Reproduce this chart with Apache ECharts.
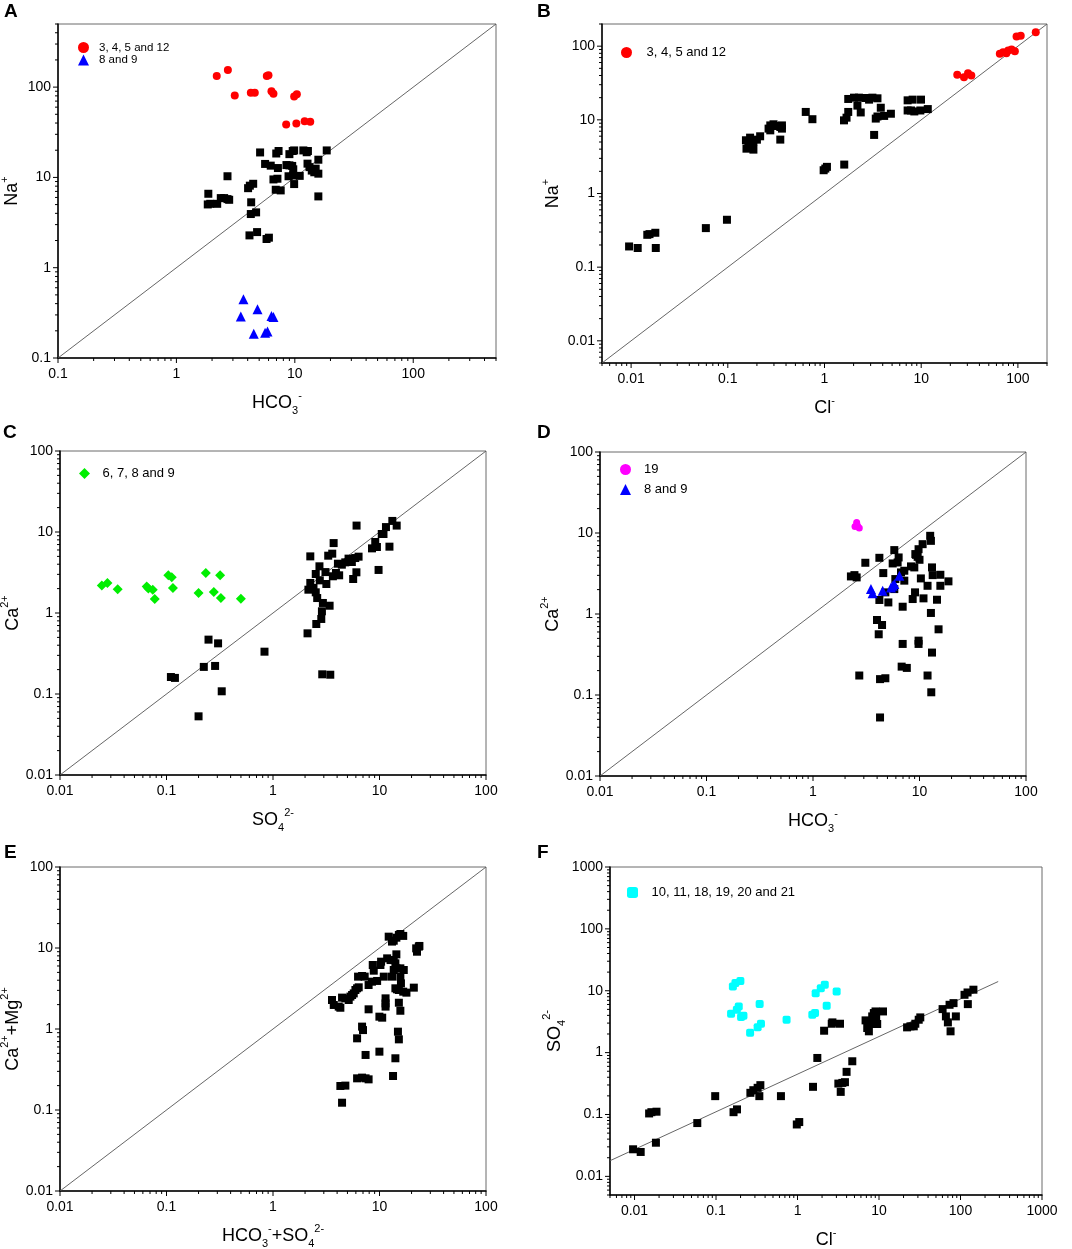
<!DOCTYPE html>
<html>
<head>
<meta charset="utf-8">
<title>Ion ratio plots</title>
<script src="https://cdn.jsdelivr.net/npm/echarts@6/dist/echarts.min.js"></script>
<style>
html, body { margin: 0; padding: 0; background: #fff; }
#chart { width: 1072px; height: 1249px; }
</style>
</head>
<body>
<div id="chart"></div>
<script>
// axis ranges (log axes)
var rangeA = [0.1, 500];
var rangeB = [0.005, 200];
var rangeC = [0.01, 100];
var rangeFx = [0.005, 1000];
var rangeFy = [0.005, 1000];

// legend groups
var grp3_12 = '3, 4, 5 and 12';
var grp8_9 = '8 and 9';
var grp6_9 = '6, 7, 8 and 9';
var grp19 = '19';
var grp10_21 = '10, 11, 18, 19, 20 and 21';

// A: Na+ vs HCO3-
var aBlack = [[1.86,6.59],[1.84,5.02],[1.93,5.1],[2.21,5.1],[2.37,5.9],[2.53,5.9],[2.7,5.75],[2.79,5.65],[2.7,10.3],[4.03,7.6],[4.17,8.1],[4.45,8.5],[4.28,5.3],[4.25,3.93],[4.71,4.1],[4.14,2.28],[4.8,2.48],[5.77,2.08],[6.04,2.15],[5.09,18.9],[5.61,14.1],[6.26,13.5],[6.97,18.4],[7.29,19.6],[6.6,9.5],[7.13,9.67],[6.9,7.3],[7.6,7.18],[7.2,12.7],[8.5,13.7],[9.0,13.6],[9.5,13.4],[9.0,18.1],[9.6,19.6],[9.87,19.9],[8.85,10.3],[9.65,10.5],[9.7,12.3],[9.87,8.44],[11,10.4],[11.8,19.9],[12.6,19],[12.9,19.6],[12.8,14.2],[13.3,13],[13.9,11.9],[14.6,11.4],[15.8,11],[15,12.5],[15.8,15.7],[15.8,6.16],[18.6,19.9]];
var aRed = [[2.19,133],[2.72,155],[3.11,81],[4.25,86.5],[4.59,86.5],[5.8,133],[5.99,135],[6.35,90],[6.6,84.4],[9.87,78.8],[10.4,83.6],[8.45,38.6],[10.3,39.6],[12.1,42],[13.5,41.3]];
var aBlue = [[3.68,0.446],[3.5,0.289],[4.84,0.346],[4.5,0.186],[5.61,0.19],[5.88,0.196],[6.35,0.292],[6.6,0.284]];

// B: Na+ vs Cl-
var bBlack = [[0.00953,0.191],[0.0117,0.182],[0.0147,0.275],[0.0155,0.281],[0.0178,0.293],[0.018,0.182],[0.0593,0.339],[0.098,0.44],[0.154,5.28],[0.163,4.75],[0.17,5.73],[0.177,4.29],[0.184,3.94],[0.2,5.38],[0.216,5.98],[0.156,4.06],[0.184,5.0],[0.264,7.6],[0.275,8.4],[0.297,8.7],[0.322,8.25],[0.349,8.0],[0.363,8.4],[0.275,7.2],[0.349,5.39],[0.363,7.6],[0.64,12.8],[0.75,10.2],[0.98,2.07],[1.06,2.3],[1.02,2.18],[1.6,2.47],[1.59,9.84],[1.69,10.7],[1.76,12.8],[1.76,19.2],[2.02,20],[2.27,20],[2.19,15.6],[2.37,12.6],[2.67,19.8],[2.89,18.8],[3.13,20],[3.53,19.6],[3.26,6.24],[3.39,10.4],[3.53,11.1],[3.82,14.6],[4.14,11.3],[4.86,12.1],[7.24,13.4],[7.84,13.4],[7.24,18.4],[8.16,18.8],[9.96,18.8],[8.49,13.0],[9.8,13.4],[11.7,14.0]];
var bRed = [[23.6,40.9],[27.7,38],[30.5,43],[33,40],[65,78.7],[70.4,83],[79.4,87.4],[86,90],[93,85.6],[76,80],[96.9,135],[107,139],[153,155]];

// C: Ca2+ vs SO4 2-
var cBlack = [[0.11,0.162],[0.12,0.158],[0.2,0.053],[0.224,0.216],[0.248,0.469],[0.286,0.222],[0.305,0.422],[0.33,0.108],[0.832,0.333],[2.11,0.561],[2.9,0.175],[3.45,0.173],[2.55,0.731],[2.84,0.844],[2.88,1.05],[2.94,1.33],[3.4,1.23],[2.6,1.53],[2.52,1.8],[2.4,2.04],[2.15,1.94],[2.24,2.35],[2.24,5.0],[2.52,3.03],[2.73,3.77],[2.75,2.53],[3.11,3.2],[3.17,2.28],[3.3,5.1],[3.6,5.4],[3.71,7.3],[3.65,2.84],[3.9,3.12],[4.18,2.92],[4.07,4.06],[4.43,3.95],[4.77,4.22],[5.12,4.69],[5.5,4.26],[5.92,4.77],[6.36,4.96],[5.66,2.63],[6.07,3.18],[6.09,12.0],[8.5,6.28],[9.12,7.53],[9.46,6.53],[9.8,3.4],[10.5,9.44],[10.9,9.44],[11.5,11.5],[12.4,6.59],[13.2,13.7],[14.5,12.0]];
var cGreen = [[0.0247,2.18],[0.0279,2.35],[0.0348,1.96],[0.0652,2.13],[0.0676,2.0],[0.0743,1.94],[0.0776,1.49],[0.104,2.92],[0.112,2.76],[0.115,2.04],[0.2,1.77],[0.234,3.12],[0.278,1.82],[0.319,2.92],[0.324,1.53],[0.499,1.5]];

// D: Ca2+ vs HCO3-
var dBlack = [[2.27,2.91],[2.45,3.02],[2.57,2.83],[2.72,0.174],[3.1,4.29],[4.2,4.94],[4.57,3.2],[4.78,1.85],[4.2,1.49],[5.1,1.39],[3.99,0.843],[4.45,0.732],[4.14,0.562],[4.26,0.157],[4.78,0.161],[4.26,0.0528],[5.8,6.15],[5.6,4.21],[6.23,4.33],[6.37,4.99],[5.8,2.03],[5.93,2.7],[6.7,3.26],[7.2,3.42],[7.2,2.58],[6.95,1.23],[6.95,0.427],[6.8,0.224],[7.6,0.216],[8.32,3.87],[8.94,3.76],[8.63,1.53],[9.08,1.85],[9.27,5.38],[9.14,5.49],[9.61,5.08],[10,4.67],[9.8,6.31],[10.7,7.28],[9.8,0.469],[9.8,0.427],[10.3,2.75],[10.9,1.56],[11.9,2.23],[12.6,9.23],[12.8,8.0],[12.8,1.03],[13.1,3.76],[13.3,3.02],[11.9,0.174],[13.1,0.334],[12.9,0.108],[14.6,1.5],[15.1,0.647],[15.7,3.05],[15.7,2.23],[18.7,2.53]];
var dMagenta = [[2.57,13.5],[2.48,12.0],[2.72,11.5],[2.62,12.3]];
var dBlue = [[3.5,2.03],[3.63,1.8],[4.51,1.94],[5.4,2.13],[5.8,2.34],[6.47,2.97],[5.6,2.23]];

// E: Ca2+ + Mg2+ vs HCO3- + SO4 2-
var eBlack = [[3.58,2.28],[3.72,1.98],[4.14,1.89],[4.29,1.83],[4.45,2.44],[4.78,2.39],[5.14,2.28],[5.53,2.63],[5.73,2.75],[5.94,3.03],[6.16,3.18],[6.38,3.27],[5.33,2.51],[6.29,4.43],[6.86,4.51],[7.26,4.43],[6.16,0.767],[6.86,1.07],[7.0,0.97],[7.4,0.478],[6.16,0.246],[6.86,0.251],[7.4,0.246],[7.9,0.239],[4.29,0.198],[4.78,0.2],[4.45,0.123],[7.9,1.75],[7.9,3.49],[8.5,3.84],[8.64,6.17],[8.83,5.25],[9.5,3.92],[10.2,6.17],[10.35,6.78],[10.97,4.43],[9.98,1.42],[10.6,1.38],[9.98,0.525],[11.4,2.39],[11.4,2.07],[11.4,1.89],[11.8,7.45],[12.7,7.1],[12.2,13.8],[13.1,12.0],[13.6,12.3],[13.1,4.43],[13.6,7.1],[14.1,6.47],[14.4,8.35],[13.6,5.35],[14.4,5.61],[14.1,3.18],[14.6,3.09],[14.1,0.435],[13.4,0.263],[14.9,0.927],[15.2,2.11],[15.2,0.745],[14.4,13.4],[15.2,14.5],[15.7,14.9],[16.7,14.1],[15.2,3.03],[15.7,5.61],[16.9,5.35],[15.7,4.43],[15.9,3.66],[15.7,1.68],[16.7,2.89],[17.9,2.81],[21,3.24],[22.1,9.9],[22.5,9.0],[23.4,10.4],[23.7,10.6]];

// F: SO4 2- vs Cl-
var fBlack = [[0.0096,0.0274],[0.0119,0.0248],[0.0151,0.104],[0.0161,0.109],[0.0186,0.111],[0.0183,0.035],[0.0589,0.0727],[0.0977,0.198],[0.164,0.109],[0.181,0.121],[0.264,0.224],[0.287,0.247],[0.324,0.27],[0.35,0.298],[0.34,0.198],[0.626,0.198],[0.98,0.069],[1.05,0.0755],[1.55,0.28],[1.75,0.82],[2.12,2.26],[2.63,2.93],[2.68,3.08],[3.32,2.93],[3.17,0.316],[3.55,0.324],[3.39,0.232],[3.82,0.333],[4.0,0.489],[4.7,0.725],[6.84,3.32],[7.17,2.5],[7.51,2.21],[7.87,2.9],[8.25,3.85],[8.64,4.36],[9.06,4.63],[9.5,2.9],[9.23,3.62],[11.2,4.63],[22.1,2.56],[24.3,2.66],[26.7,2.66],[27.9,2.93],[30.7,3.4],[32.1,3.71],[60.3,5.05],[66.2,3.85],[70,3.08],[73.4,5.93],[75.5,2.21],[82.1,6.31],[87.7,3.85],[112,8.6],[123,6.08],[122,9.38],[144,10.4]];
var fCyan = [[0.161,11.7],[0.173,13.3],[0.199,14.4],[0.153,4.25],[0.18,4.93],[0.19,5.58],[0.203,3.76],[0.217,3.94],[0.262,2.1],[0.324,2.56],[0.356,2.93],[0.343,6.08],[0.734,3.4],[1.52,4.1],[1.64,4.36],[1.67,9.15],[1.93,11.0],[2.16,12.5],[2.28,5.72],[3.02,9.73]];
var fTrend = [[0.005,0.0179],[290,14.1]];

var FONT = '"Liberation Sans", Arial, sans-serif';
var RICH = {
    b: { fontSize: 18, fontFamily: FONT, color: '#000', lineHeight: 26 },
    sup: { fontSize: 11, fontFamily: FONT, color: '#000', lineHeight: 12, verticalAlign: 'top' },
    sub: { fontSize: 11, fontFamily: FONT, color: '#000', lineHeight: 12, verticalAlign: 'bottom' }
};

// only label whole decades
function decadeLabel(v) {
    var l = Math.log10(v);
    if (Math.abs(l - Math.round(l)) > 1e-6) return '';
    return v >= 1 ? String(Math.round(v)) : String(+v.toPrecision(1));
}

function eachTick(r, cb) {
    var k0 = Math.floor(Math.log10(r[0])), k1 = Math.ceil(Math.log10(r[1]));
    for (var k = k0; k <= k1; k++) {
        for (var m = 1; m <= 9; m++) {
            var v = m * Math.pow(10, k);
            if (v >= r[0] * 0.999 && v <= r[1] * 1.001) cb(v, m === 1);
        }
    }
}
function tickData(xr, yr) {
    var out = [];
    eachTick(xr, function (v, major) { out.push([v, yr[0], 0, major ? 5 : 3]); });
    eachTick(yr, function (v, major) { out.push([xr[0], v, 1, major ? 5 : 3]); });
    return out;
}
function renderTick(params, api) {
    var p = api.coord([api.value(0), api.value(1)]);
    var len = api.value(3);
    var shape = api.value(2) === 0
        ? { x1: p[0], y1: p[1], x2: p[0], y2: p[1] + len }
        : { x1: p[0] - len, y1: p[1], x2: p[0], y2: p[1] };
    return { type: 'line', shape: shape, style: { stroke: '#000', lineWidth: 1 } };
}

var grids = [
    { left: 58, top: 24, width: 438, height: 334 },
    { left: 602, top: 24, width: 445, height: 339 },
    { left: 60, top: 451, width: 426, height: 324 },
    { left: 600, top: 452, width: 426, height: 324 },
    { left: 60, top: 867, width: 426, height: 324 },
    { left: 610, top: 867, width: 432, height: 328 }
];
grids.forEach(function (g) {
    g.show = true;
    g.borderColor = '#6a6a6a';
    g.borderWidth = 1;
    g.backgroundColor = 'transparent';
    g.outerBoundsMode = 'none';
});

function makeX(gi, r, name, gap) {
    return {
        type: 'log', logBase: 10, gridIndex: gi, min: r[0], max: r[1],
        name: name, nameLocation: 'middle', nameGap: gap,
        nameTextStyle: { rich: RICH },
        axisLine: { show: true, onZero: false, lineStyle: { color: '#000', width: 1.5 } },
        axisTick: { show: false }, splitLine: { show: false }, minorTick: { show: false },
        axisLabel: { formatter: decadeLabel, fontSize: 14, color: '#000', fontFamily: FONT, margin: 9 }
    };
}
function makeY(gi, r, name, gap) {
    var a = makeX(gi, r, name, gap);
    a.nameRotate = 90;
    a.axisLabel.margin = 7;
    return a;
}

var xAxes = [
    makeX(0, rangeA, '{b|HCO}{sub|3}{sup|-}', 32),
    makeX(1, rangeB, '{b|Cl}{sup|-}', 32),
    makeX(2, rangeC, '{b|SO}{sub|4}{sup|2-}', 32),
    makeX(3, rangeC, '{b|HCO}{sub|3}{sup|-}', 32),
    makeX(4, rangeC, '{b|HCO}{sub|3}{sup|-}{b|+SO}{sub|4}{sup|2-}', 32),
    makeX(5, rangeFx, '{b|Cl}{sup|-}', 32)
];
var yAxes = [
    makeY(0, rangeA, '{b|Na}{sup|+}', 33),
    makeY(1, rangeB, '{b|Na}{sup|+}', 36),
    makeY(2, rangeC, '{b|Ca}{sup|2+}', 34),
    makeY(3, rangeC, '{b|Ca}{sup|2+}', 34),
    makeY(4, rangeC, '{b|Ca}{sup|2+}{b|+Mg}{sup|2+}', 34),
    makeY(5, rangeFy, '{b|SO}{sub|4}{sup|2-}', 40)
];

function pts(name, data, gi, symbol, color, size) {
    return {
        type: 'scatter', name: name, data: data, xAxisIndex: gi, yAxisIndex: gi,
        symbol: symbol, symbolSize: size, itemStyle: { color: color, opacity: 1 },
        silent: true, z: 3
    };
}
function refLine(data, gi) {
    return {
        type: 'line', data: data, xAxisIndex: gi, yAxisIndex: gi, symbol: 'none',
        lineStyle: { color: '#555', width: 0.9 }, silent: true, z: 2
    };
}
function ticks(gi, xr, yr) {
    return {
        type: 'custom', xAxisIndex: gi, yAxisIndex: gi, renderItem: renderTick,
        data: tickData(xr, yr), clip: false, silent: true, z: 4
    };
}

var series = [
    ticks(0, rangeA, rangeA), refLine([[rangeA[0], rangeA[0]], [rangeA[1], rangeA[1]]], 0),
    pts('samples', aBlack, 0, 'rect', '#000', 8),
    pts(grp3_12, aRed, 0, 'circle', '#ff0000', 8),
    pts(grp8_9, aBlue, 0, 'triangle', '#0000ff', 10),

    ticks(1, rangeB, rangeB), refLine([[rangeB[0], rangeB[0]], [rangeB[1], rangeB[1]]], 1),
    pts('samples', bBlack, 1, 'rect', '#000', 8),
    pts(grp3_12, bRed, 1, 'circle', '#ff0000', 8),

    ticks(2, rangeC, rangeC), refLine([[rangeC[0], rangeC[0]], [rangeC[1], rangeC[1]]], 2),
    pts('samples', cBlack, 2, 'rect', '#000', 8),
    pts(grp6_9, cGreen, 2, 'diamond', '#00ee00', 10),

    ticks(3, rangeC, rangeC), refLine([[rangeC[0], rangeC[0]], [rangeC[1], rangeC[1]]], 3),
    pts('samples', dBlack, 3, 'rect', '#000', 8),
    pts(grp19, dMagenta, 3, 'circle', '#ff00ff', 7),
    pts(grp8_9, dBlue, 3, 'triangle', '#0000ff', 10),

    ticks(4, rangeC, rangeC), refLine([[rangeC[0], rangeC[0]], [rangeC[1], rangeC[1]]], 4),
    pts('samples', eBlack, 4, 'rect', '#000', 8),

    ticks(5, rangeFx, rangeFy), refLine(fTrend, 5),
    pts('samples', fBlack, 5, 'rect', '#000', 8),
    pts(grp10_21, fCyan, 5, 'roundRect', '#00ffff', 8)
];

// square icon box, text pushed right with padding
function legendAt(left, top, items, fontSize, gap, pad) {
    return {
        left: left, top: top, orient: 'vertical', itemGap: gap, padding: 0,
        itemWidth: 11, itemHeight: 11, selectedMode: false,
        data: items,
        textStyle: { fontSize: fontSize, fontFamily: FONT, color: '#000', padding: [0, 0, 0, pad] }
    };
}

var legends = [
    legendAt(78, 41.5, [{ name: grp3_12, icon: 'circle' }, { name: grp8_9, icon: 'triangle' }], 11.5, 0.6, 5),
    legendAt(621, 46, [{ name: grp3_12, icon: 'circle' }], 13, 4, 9.5),
    legendAt(79, 467, [{ name: grp6_9, icon: 'diamond' }], 13, 4, 7.5),
    legendAt(620, 463, [{ name: grp19, icon: 'circle' }, { name: grp8_9, icon: 'triangle' }], 13, 7, 8),
    legendAt(627, 886, [{ name: grp10_21, icon: 'roundRect' }], 13, 4, 8.5)
];

function letter(t, left, top) {
    return { text: t, left: left, top: top, padding: 0,
        textStyle: { fontSize: 19, fontWeight: 'bold', fontFamily: FONT, color: '#000' } };
}

var myChart = echarts.init(document.getElementById('chart'));
myChart.setOption({
    animation: false,
    backgroundColor: '#fff',
    title: [letter('A', 4, 2), letter('B', 537, 2), letter('C', 3, 423), letter('D', 537, 423), letter('E', 4, 843), letter('F', 537, 843)],
    legend: legends,
    grid: grids,
    xAxis: xAxes,
    yAxis: yAxes,
    series: series
});
window.addEventListener('resize', function () { myChart.resize(); });
</script>
</body>
</html>
